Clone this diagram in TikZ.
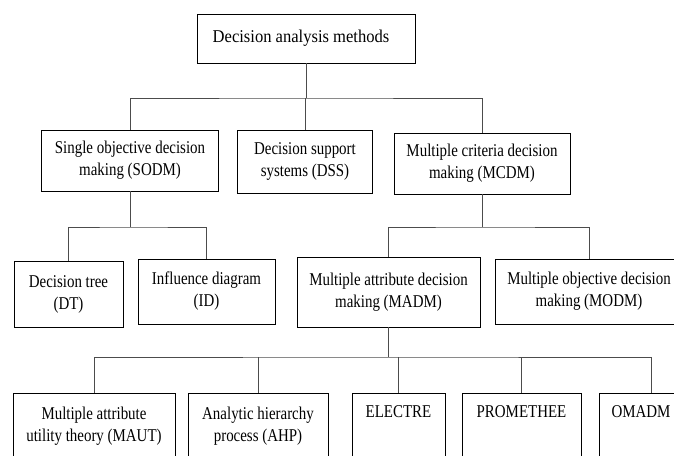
\documentclass[tikz,border=0pt]{standalone}
\usepackage{fontspec}
\setmainfont[FakeStretch=0.83]{Liberation Serif}
\newfontfamily\titlefont[FakeStretch=0.92]{Liberation Serif}

\begin{document}
\begin{tikzpicture}[x=1pt,y=-1pt,
  blk/.style={draw,line width=0.9pt,align=center,inner sep=0pt,font=\fontsize{18}{22}\selectfont},
  link/.style={draw=black!70,line width=0.9pt}]
\useasboundingbox (0,0) rectangle (674,455);
\node[blk,minimum width=218,minimum height=49,font=\titlefont\fontsize{18}{22}\selectfont] (dam) at (306,38.5) {\hspace*{-10pt}Decision analysis methods};
\node[blk,minimum width=177,minimum height=61] (sodm) at (130,160.5) {Single objective decision\\making (SODM)};
\node[blk,minimum width=135,minimum height=63] (dss) at (305,161.5) {Decision support\\systems (DSS)};
\node[blk,minimum width=176,minimum height=61] (mcdm) at (482,163.5) {Multiple criteria decision\\making (MCDM)};
\node[blk,minimum width=109,minimum height=66] (dt) at (68.5,294) {Decision tree\\(DT)};
\node[blk,minimum width=137,minimum height=65] (id) at (206.5,291.5) {Influence diagram\\(ID)};
\node[blk,minimum width=183,minimum height=70] (madm) at (388.5,292) {Multiple attribute decision\\making (MADM)};
\node[blk,minimum width=188,minimum height=65] (modm) at (589,291.5) {Multiple objective decision\\making (MODM)};
\node[blk,minimum width=162,minimum height=66] (maut) at (94,426) {Multiple attribute\\utility theory (MAUT)};
\node[blk,minimum width=140,minimum height=66] (ahp) at (258,426) {Analytic hierarchy\\process (AHP)};
\node[blk,minimum width=93,minimum height=66] (electre) at (398.5,426) {ELECTRE\\\strut};
\node[blk,minimum width=119,minimum height=66] (promethee) at (521.5,426) {PROMETHEE\\\strut};
\node[blk,minimum width=84,minimum height=66] (omadm) at (641,426) {OMADM\\\strut};
\coordinate (j1) at (dam.south |- 0,98);
\coordinate (j2) at (sodm.south |- 0,227);
\coordinate (j3) at (mcdm.south |- 0,227);
\coordinate (j4) at (madm.south |- 0,357);
\draw[link] (dam.south) -- (j1);
\draw[link] (sodm.north) |- (j1) -| (mcdm.north);
\draw[link] (j1) -- (j1 -| dss.north) -- (dss.north);
\draw[link] (sodm.south) -- (j2);
\draw[link] (dt.north) |- (j2) -| (id.north);
\draw[link] (mcdm.south) -- (j3);
\draw[link] (madm.north) |- (j3) -| (modm.north);
\draw[link] (madm.south) -- (j4);
\draw[link] (maut.north) |- (j4) -| ([xshift=10pt]omadm.north);
\draw[link] (ahp.north) -- (ahp.north |- j4);
\draw[link] (electre.north) -- (electre.north |- j4);
\draw[link] (promethee.north) -- (promethee.north |- j4);
\end{tikzpicture}
\end{document}
